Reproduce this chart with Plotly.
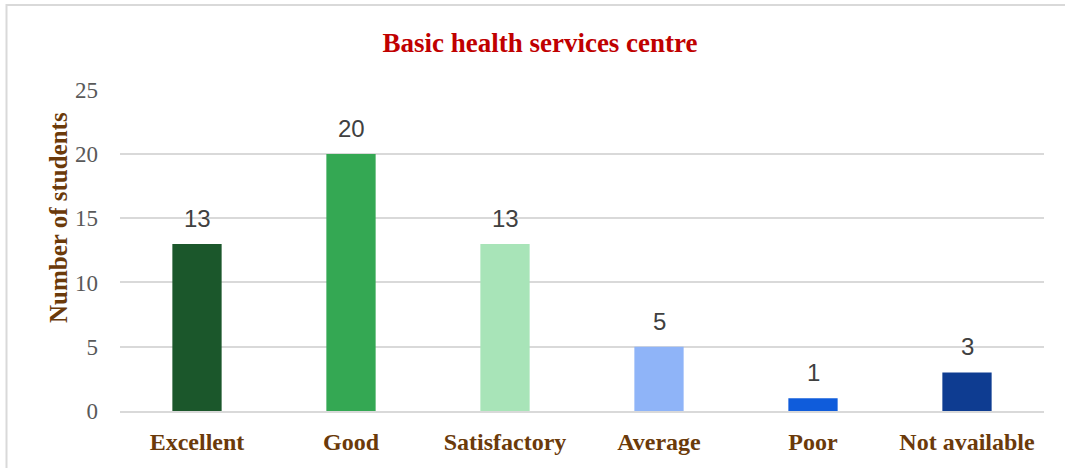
import plotly.graph_objects as go

categories = ["Excellent", "Good", "Satisfactory", "Average", "Poor", "Not available"]
values = [13, 20, 13, 5, 1, 3]
bar_colors = ["#1B572B", "#34A853", "#A8E4B8", "#8FB4F8", "#0F5CDB", "#0E3C91"]
y_ticks = [0, 5, 10, 15, 20, 25]

W, H = 1065, 468
L, R, T, B = 120, 21, 89, 57
pw, ph = W - L - R, H - T - B

fig = go.Figure(go.Bar(
    x=categories, y=values,
    marker=dict(color=bar_colors, line=dict(width=0)),
    width=0.32,
    hoverinfo="x+y",
))

for c, v in zip(categories, values):
    fig.add_annotation(x=c, y=v, text=str(v), showarrow=False, yanchor="bottom",
                       yshift=10,
                       font=dict(family="Liberation Sans, Arial", size=24, color="#404040"))

def px_x(px):
    return (px - L) / pw

def px_y(py):
    return (H - B - py) / ph

fig.add_annotation(xref="paper", yref="paper", x=px_x(58), y=px_y(218),
                   xanchor="center", yanchor="middle", textangle=-90, showarrow=False,
                   text="<b>Number of students</b>",
                   font=dict(family="Liberation Serif, Times New Roman", size=25, color="#6B3A0A"))

fig.update_layout(
    width=W, height=H,
    margin=dict(l=L, r=R, t=T, b=B),
    paper_bgcolor="white", plot_bgcolor="white",
    showlegend=False,
    title=dict(text="<b>Basic health services centre</b>", x=540 / W, xanchor="center",
               y=1 - 43 / H, yanchor="middle",
               font=dict(family="Liberation Serif, Times New Roman", size=27, color="#C00000")),
    xaxis=dict(showgrid=False, showline=True, linecolor="#D9D9D9", linewidth=1.5,
               tickfont=dict(family="Liberation Serif, Times New Roman", size=24, color="#6B3A0A"),
               ticks="", ticklabelstandoff=8,
               tickvals=categories,
               ticktext=[f"<b>{c}</b>" for c in categories]),
    yaxis=dict(range=[0, 25.05], tickvals=y_ticks, showgrid=True, gridcolor="#D9D9D9", gridwidth=1.5,
               zeroline=False, showline=False, ticks="", ticklabelstandoff=21,
               tickfont=dict(family="Liberation Serif, Times New Roman", size=23, color="#595959")),
    shapes=[dict(type="rect", xref="paper", yref="paper",
                 x0=px_x(6.5), x1=px_x(1080), y0=px_y(480), y1=px_y(5),
                 line=dict(color="#D9D9D9", width=2), fillcolor="rgba(0,0,0,0)", layer="below")],
)

fig.write_html("out.html", config={"displayModeBar": False},
               post_script="document.body.style.margin='0';document.body.style.overflow='hidden';")
